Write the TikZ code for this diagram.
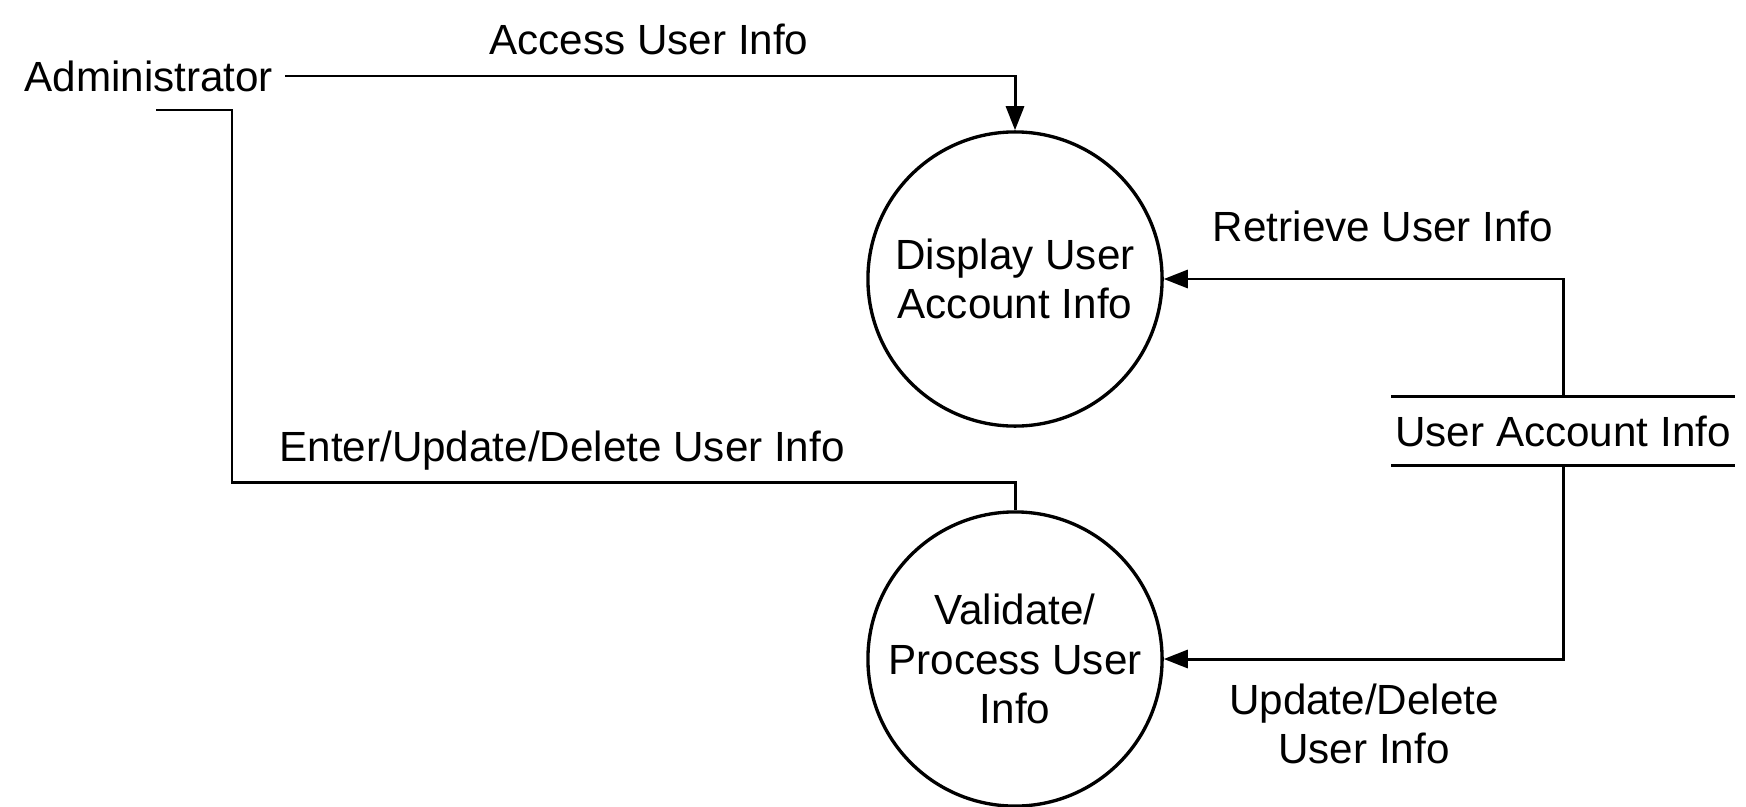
\documentclass[tikz,border=0pt]{standalone}
\usepackage{fontspec}
\setmainfont{Liberation Sans}
\usetikzlibrary{arrows.meta}
\tikzset{
  every node/.style={font=\fontsize{12}{14}\selectfont},
  proc/.style={circle, draw, line width=0.95pt, minimum size=2.94cm, inner sep=0pt, align=center},
  flow/.style={line width=0.85pt, -{Triangle[length=0.24cm,width=0.18cm]}},
  wire/.style={line width=0.85pt},
  lbl/.style={align=center}
}

\begin{document}
\begin{tikzpicture}[x=0.01cm,y=-0.01cm]
  \useasboundingbox (0,0) rectangle (1746,806);
  % processes
  \node[proc] (disp) at (1015,279) {Display User\\Account Info};
  \node[proc] (valid) at (1015,659) {Validate/\\Process User\\Info};
  % external entity and data store
  \node[anchor=west] (admin) at (12,76) {Administrator};
  \node[minimum height=0.67cm, inner xsep=1pt, inner ysep=0pt] (store) at (1563,431) {User Account Info};
  \draw[wire] (store.north west) -- (store.north east);
  \draw[wire] (store.south west) -- (store.south east);
  % flows
  \coordinate (adm foot) at (156,110);
  \coordinate (enter bend) at (232,482);
  \draw[flow] (admin.east) -| (disp.north);
  \draw[wire] (adm foot) -| (enter bend) -| (valid.north);
  \draw[flow] (store.north) |- (disp);
  \draw[flow] (store.south) |- (valid);
  % labels
  \node[lbl] (access lbl) at (649,39) {Access User Info};
  \node[lbl, anchor=west] (enter lbl) at (267,451) {Enter/Update/Delete User Info};
  \node[lbl] (retrieve lbl) at (1383,226) {Retrieve User Info};
  \node[lbl] (update lbl) at (1364,724) {Update/Delete\\User Info};
\end{tikzpicture}
\end{document}
